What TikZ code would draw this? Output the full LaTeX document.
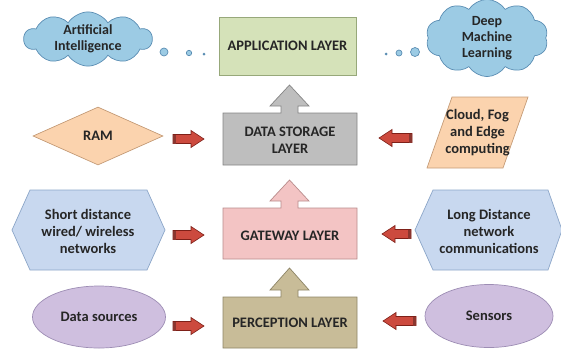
\documentclass[tikz,border=0pt]{standalone}
\usepackage{fontspec}
\setmainfont{Carlito}
\usetikzlibrary{shapes.geometric,shapes.symbols}
\definecolor{txt}{HTML}{262626}
\definecolor{appfill}{HTML}{D5E2B9}
\definecolor{appdraw}{HTML}{97A87A}
\definecolor{dsfill}{HTML}{BEBEBE}
\definecolor{dsdraw}{HTML}{858585}
\definecolor{gwfill}{HTML}{F3C4C4}
\definecolor{gwdraw}{HTML}{B98C8C}
\definecolor{pcfill}{HTML}{C8BC98}
\definecolor{pcdraw}{HTML}{8D8466}
\definecolor{cloudfill}{HTML}{9CCBE4}
\definecolor{clouddraw}{HTML}{5A8DB3}
\definecolor{peachfill}{HTML}{FBD3AE}
\definecolor{peachdraw}{HTML}{C59C78}
\definecolor{hexfill}{HTML}{C8D8EF}
\definecolor{hexdraw}{HTML}{8CA6C8}
\definecolor{ellfill}{HTML}{CFBFDF}
\definecolor{elldraw}{HTML}{9D8DB4}
\definecolor{redfill}{HTML}{CC4A3E}
\definecolor{reddraw}{HTML}{7E2018}
\tikzset{
  lbl/.style={text=txt,font=\fontsize{14.5}{17}\selectfont\bfseries,align=center,inner sep=0pt},
  cloudnode/.style={cloud,cloud puffs=10,cloud puff arc=115,aspect=2.4,fill=cloudfill,draw=clouddraw,line width=0.7pt,
    text=txt,font=\fontsize{14}{16}\selectfont\bfseries,align=center,inner sep=0pt},
  dotc/.style={fill=cloudfill,draw=clouddraw,line width=0.7pt},
  redarr/.style={fill=redfill,draw=reddraw,line width=0.6pt},
  shp/.style={line width=0.7pt}
}
% block arrow: #1 tail x, #2 tip x, #3 y
\newcommand\myredarrow[3]{%
  \pgfmathsetmacro\hb{#2+(#1<#2?-13:13)}%
  \draw[redarr] (#1,#3-4.5) -- (\hb,#3-4.5) -- (\hb,#3-8.5) -- (#2,#3) -- (\hb,#3+8.5) -- (\hb,#3+4.5) -- (#1,#3+4.5) -- cycle;
  \fill[reddraw!90] (#1,#3-4.5) rectangle ({#1+(#1<#2?3:-3)},#3+4.5);
}
% layer box with up arrow: #1 top y, #2 bottom y, #3 apex y, #4 style
\newcommand\mylayer[4]{%
  \draw[#4] (223,#1) -- (281,#1) -- (281,#1-7) -- (270,#1-7) -- (289.5,#3) -- (309,#1-7) -- (298,#1-7) -- (298,#1) -- (357,#1) -- (357,#2) -- (223,#2) -- cycle;
}
\begin{document}
\begin{tikzpicture}[x=1pt,y=-1pt]
\useasboundingbox (0,0) rectangle (561,349);

% central layers
\draw[shp,fill=appfill,draw=appdraw] (219,17) rectangle (356,75);
\node[lbl] (app) at (287.5,46) {APPLICATION LAYER};

\mylayer{113}{165}{85}{shp,fill=dsfill,draw=dsdraw}
\node[lbl] (ds) at (290,140) {DATA STORAGE\\LAYER};

\mylayer{208}{259}{180}{shp,fill=gwfill,draw=gwdraw}
\node[lbl] (gw) at (290,236) {GATEWAY LAYER};

\mylayer{297}{348}{268}{shp,fill=pcfill,draw=pcdraw}
\node[lbl] (pc) at (290,323) {PERCEPTION LAYER};

% clouds
\node[cloudnode,minimum width=128pt,minimum height=50pt] (ai) at (88,39) {Artificial\\Intelligence};
\node[cloudnode,minimum width=122pt,minimum height=68pt,aspect=1.8] (dl) at (487,38) {Deep\\Machine\\Learning};
\draw[dotc] (164,52) circle (4);
\draw[dotc] (189,53) circle (2.7);
\fill[clouddraw] (204,54) circle (1.5);
\fill[clouddraw] (386,54) circle (1.5);
\draw[dotc] (399,53) circle (3);
\draw[dotc] (415,52) circle (4.5);

% RAM diamond
\node[diamond,shp,fill=peachfill,draw=peachdraw,minimum width=130pt,minimum height=58pt,inner sep=0pt,
  lbl] (ram) at (98,136) {RAM};

% Cloud Fog Edge parallelogram
\draw[shp,fill=peachfill,draw=peachdraw] (452,97) -- (528,97) -- (503,168) -- (427,168) -- cycle;
\node[lbl] (cfe) at (477.5,132.5) {Cloud, Fog\\and Edge\\computing};

% hexagons
\draw[shp,fill=hexfill,draw=hexdraw] (30,190) -- (147,190) -- (165,230) -- (147,270) -- (30,270) -- (12,230) -- cycle;
\node[lbl] (sd) at (88,231) {Short distance\\wired/ wireless\\networks};
\draw[shp,fill=hexfill,draw=hexdraw] (433,190) -- (548,190) -- (562,230) -- (548,270) -- (433,270) -- (415,230) -- cycle;
\node[lbl] (ld) at (489,231) {Long Distance\\network\\communications};

% ellipses
\node[ellipse,shp,fill=ellfill,draw=elldraw,minimum width=133pt,minimum height=62pt,lbl] (dsrc) at (99,317) {Data sources};
\node[ellipse,shp,fill=ellfill,draw=elldraw,minimum width=128pt,minimum height=63pt,lbl] (sens) at (489,316) {Sensors};

% red block arrows
\myredarrow{173}{204}{139}
\myredarrow{412}{379}{138}
\myredarrow{173}{204}{235}
\myredarrow{411}{382}{234}
\myredarrow{173}{204}{326}
\myredarrow{416}{383}{321}
\end{tikzpicture}
\end{document}
